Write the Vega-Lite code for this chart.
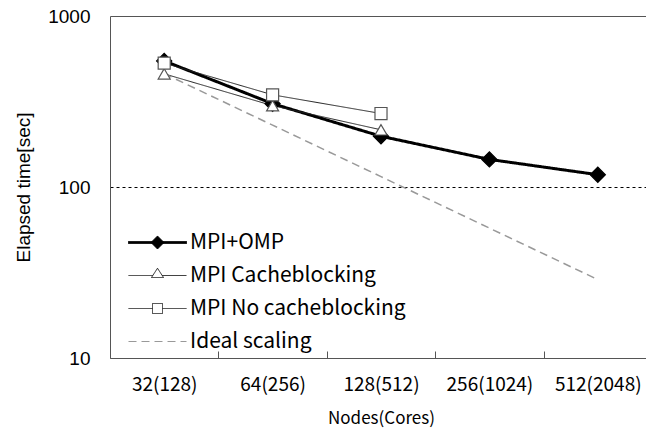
{
  "$schema": "https://vega.github.io/schema/vega-lite/v6.json",
  "autosize": {"type": "none"},
  "width": 536,
  "height": 342,
  "padding": {"left": 110, "top": 16, "right": 0, "bottom": 73},
  "background": "white",
  "config": {
    "view": {"stroke": null},
    "legend": {
      "orient": "none",
      "legendX": 37,
      "legendY": 216,
      "padding": 0,
      "symbolSize": 100,
      "symbolOffset": 0,
      "symbolOpacity": 1,
      "symbolStrokeWidth": 1,
      "labelOffset": 22,
      "labelLimit": 0,
      "rowPadding": 11,
      "labelFont": "Noto Sans CJK JP",
      "labelFontSize": 21,
      "labelColor": "#000"
    }
  },
  "data": {
    "values": [
      {"nodes": "32(128)", "series": "MPI+OMP", "time": 546},
      {"nodes": "64(256)", "series": "MPI+OMP", "time": 307},
      {"nodes": "128(512)", "series": "MPI+OMP", "time": 198},
      {"nodes": "256(1024)", "series": "MPI+OMP", "time": 145},
      {"nodes": "512(2048)", "series": "MPI+OMP", "time": 118},
      {"nodes": "32(128)", "series": "MPI Cacheblocking", "time": 459},
      {"nodes": "64(256)", "series": "MPI Cacheblocking", "time": 299},
      {"nodes": "128(512)", "series": "MPI Cacheblocking", "time": 216},
      {"nodes": "32(128)", "series": "MPI No cacheblocking", "time": 530},
      {"nodes": "64(256)", "series": "MPI No cacheblocking", "time": 346},
      {"nodes": "128(512)", "series": "MPI No cacheblocking", "time": 269},
      {"nodes": "32(128)", "series": "Ideal scaling", "time": 460},
      {"nodes": "64(256)", "series": "Ideal scaling", "time": 230},
      {"nodes": "128(512)", "series": "Ideal scaling", "time": 115},
      {"nodes": "256(1024)", "series": "Ideal scaling", "time": 57.5},
      {"nodes": "512(2048)", "series": "Ideal scaling", "time": 28.75}
    ]
  },
  "encoding": {
    "x": {
      "field": "nodes",
      "type": "nominal",
      "sort": ["32(128)", "64(256)", "128(512)", "256(1024)", "512(2048)"],
      "scale": {"type": "band", "range": [0, 542], "paddingInner": 0, "paddingOuter": 0},
      "axis": {
        "title": "Nodes(Cores)",
        "labelAngle": 0,
        "labelFont": "Noto Sans CJK JP",
        "labelFontSize": 19,
        "labelColor": "#000",
        "labelPadding": 24,
        "tickBand": "extent",
        "tickSize": -7,
        "tickColor": "#555",
        "domainColor": "#555",
        "titleFont": "Noto Sans CJK JP",
        "titleFontSize": 17,
        "titleFontWeight": "normal",
        "titleColor": "#000",
        "titlePadding": 16
      }
    },
    "y": {
      "field": "time",
      "type": "quantitative",
      "scale": {"type": "log", "domain": [10, 1000], "nice": false},
      "axis": {
        "title": "Elapsed time[sec]",
        "values": [10, 100, 1000],
        "format": "d",
        "ticks": false,
        "labelFont": "Liberation Sans",
        "labelFontSize": 19,
        "labelColor": "#000",
        "labelPadding": 20,
        "domainColor": "#555",
        "grid": true,
        "gridColor": {"condition": {"test": "datum.value === 100", "value": "#000"}, "value": "#555"},
        "gridDash": {"condition": {"test": "datum.value === 100", "value": [3, 3]}, "value": []},
        "gridOpacity": {"condition": {"test": "datum.value === 10", "value": 0}, "value": 1},
        "titleFont": "Liberation Sans",
        "titleFontSize": 19,
        "titleFontWeight": "normal",
        "titleColor": "#000",
        "titlePadding": 14
      }
    }
  },
  "layer": [
    {
      "mark": {"type": "line"},
      "encoding": {
        "stroke": {
          "field": "series",
          "scale": {"domain": ["MPI+OMP", "MPI Cacheblocking", "MPI No cacheblocking", "Ideal scaling"], "range": ["#000", "#222", "#222", "#999"]},
          "legend": {"title": null}
        },
        "strokeWidth": {
          "condition": [
            {"test": "datum.series === 'MPI+OMP'", "value": 3},
            {"test": "datum.series === 'Ideal scaling'", "value": 1.5}
          ],
          "value": 1
        },
        "strokeDash": {
          "field": "series",
          "scale": {"domain": ["MPI+OMP", "MPI Cacheblocking", "MPI No cacheblocking", "Ideal scaling"], "range": [[1, 0], [1, 0], [1, 0], [8, 5]]},
          "legend": {"title": null}
        }
      }
    },
    {
      "mark": {"type": "point", "opacity": 0, "size": 100, "strokeWidth": 1},
      "encoding": {
        "shape": {
          "field": "series",
          "scale": {
            "domain": ["MPI+OMP", "MPI Cacheblocking", "MPI No cacheblocking", "Ideal scaling"],
            "range": [
              "M-5.8,-0.2H5.8V0.2H-5.8ZM-1.3,0L0,-1.3L1.3,0L0,1.3Z",
              "M-5.8,0H-0.94M0.94,0H5.8M0,-1.45L1.2,0.4H-1.2Z",
              "M-5.8,0H-1M1,0H5.8M-1,-1H1V1H-1Z",
              "M-5.8,0H5.8"
            ]
          },
          "legend": {"title": null}
        },
        "fill": {
          "field": "series",
          "scale": {"domain": ["MPI+OMP", "MPI Cacheblocking", "MPI No cacheblocking", "Ideal scaling"], "range": ["#000", "#fff", "#fff", "transparent"]},
          "legend": {"title": null}
        },
        "stroke": {"field": "series", "legend": {"title": null}},
        "strokeDash": {"field": "series", "legend": {"title": null}}
      }
    },
    {
      "transform": [{"filter": "datum.series !== 'Ideal scaling'"}],
      "mark": {"type": "point", "filled": false, "opacity": 1, "strokeWidth": 1.2},
      "encoding": {
        "shape": {
          "condition": [
            {"test": "datum.series === 'MPI+OMP'", "value": "diamond"},
            {"test": "datum.series === 'MPI Cacheblocking'", "value": "triangle-up"}
          ],
          "value": "square"
        },
        "fill": {
          "condition": {"test": "datum.series === 'MPI+OMP'", "value": "#000"},
          "value": "#fff"
        },
        "stroke": {
          "condition": {"test": "datum.series === 'MPI+OMP'", "value": "#000"},
          "value": "#555"
        },
        "size": {
          "condition": {"test": "datum.series === 'MPI+OMP'", "value": 230},
          "value": 145
        }
      }
    }
  ]
}
